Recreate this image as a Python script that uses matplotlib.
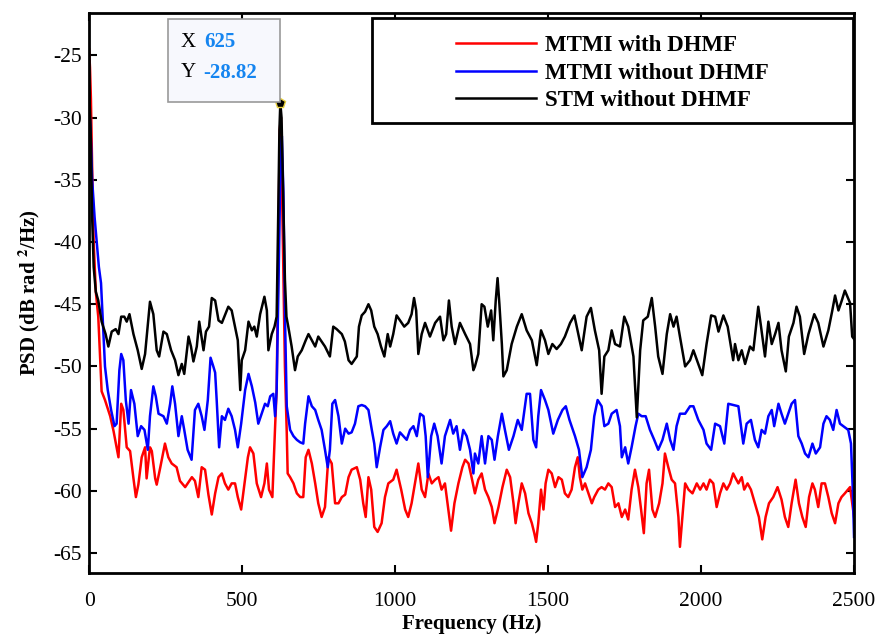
import matplotlib
matplotlib.use('Agg')
import matplotlib.pyplot as plt
from matplotlib.patches import Rectangle

# red: MTMI with DHMF
red_f = [0, 3, 6, 10, 15, 22, 30, 41, 52, 69, 80, 96, 105, 112, 123, 134, 145, 153, 161, 172,
         183, 188, 199, 205, 216, 221, 232, 248, 259, 270, 286, 297, 314, 336, 346, 357, 368, 379,
         390, 401, 412, 423, 434, 444, 455, 466, 477, 486, 497, 508, 519, 526, 537, 548, 562, 573,
         581, 588, 599, 608, 613, 619, 623, 627, 632, 640, 646, 649, 657, 668, 679, 690, 700, 708,
         717, 728, 739, 749, 760, 771, 782, 793, 804, 815, 826, 837, 848, 858, 875, 886, 896, 904,
         913, 922, 932, 943, 956, 967, 978, 994, 1005, 1020, 1033, 1043, 1054, 1065, 1076, 1087,
         1098, 1109, 1120, 1131, 1142, 1152, 1163, 1174, 1183, 1194, 1207, 1220, 1229, 1240, 1250,
         1261, 1272, 1283, 1294, 1305, 1316, 1325, 1338, 1351, 1365, 1376, 1387, 1394, 1403, 1414,
         1425, 1436, 1447, 1455, 1461, 1468, 1477, 1485, 1492, 1501, 1512, 1523, 1534, 1545, 1555,
         1566, 1577, 1588, 1597, 1604, 1612, 1621, 1632, 1643, 1651, 1664, 1675, 1686, 1697, 1708,
         1719, 1730, 1741, 1752, 1762, 1773, 1784, 1795, 1804, 1813, 1822, 1830, 1841, 1850, 1863,
         1874, 1882, 1893, 1904, 1915, 1926, 1931, 1939, 1948, 1959, 1972, 1986, 1997, 2008, 2018,
         2029, 2040, 2051, 2062, 2073, 2084, 2095, 2105, 2111, 2122, 2133, 2141, 2152, 2163, 2176,
         2189, 2200, 2211, 2222, 2236, 2250, 2263, 2274, 2285, 2296, 2309, 2320, 2331, 2342, 2353,
         2364, 2372, 2383, 2394, 2405, 2416, 2427, 2438, 2449, 2459, 2470, 2487, 2494, 2500]
red_psd = [-24.5, -26, -28.5, -34, -40, -44, -46, -52, -52.7, -54, -55.2, -57.3, -53, -53.5, -56.5,
           -56.8, -59, -60.5, -59.5, -57.3, -56.5, -59, -56.5, -56.8, -59, -59.5, -58.2, -56.2,
           -57.3, -57.8, -58.1, -59.2, -59.7, -58.9, -59.2, -60.5, -58.1, -58.3, -60.3, -61.9,
           -60.2, -58.9, -58.6, -59.4, -59.9, -59.4, -59.4, -60.5, -61.5, -59.4, -57.3, -56.5,
           -57.0, -59.4, -60.5, -59.4, -57.8, -59.9, -60.5, -54.8, -51.9, -40, -31, -30, -38, -50,
           -55.3, -58.6, -58.9, -59.4, -60.2, -60.5, -60.5, -57.3, -56.7, -57.8, -59.4, -61.0,
           -62.1, -61.3, -57.3, -57.8, -61.0, -61.0, -60.5, -60.3, -58.9, -58.3, -58.1, -59.1,
           -61.0, -62.1, -58.9, -59.9, -62.9, -63.3, -62.6, -60.5, -59.4, -59.1, -58.3, -59.9,
           -61.5, -62.1, -61.0, -59.4, -57.8, -59.9, -60.5, -58.6, -59.4, -59.1, -58.9, -59.9,
           -59.4, -61.5, -63.2, -61.0, -59.4, -58.1, -57.5, -57.8, -58.9, -60.2, -59.1, -58.6,
           -59.9, -60.5, -61.3, -62.6, -61.3, -59.7, -58.3, -58.9, -61.0, -62.6, -61.0, -59.4,
           -60.2, -61.8, -62.6, -63.4, -64.1, -62.6, -59.9, -61.5, -59.4, -58.3, -58.6, -59.7,
           -58.9, -59.1, -60.2, -60.5, -59.9, -58.1, -57.3, -58.9, -59.9, -59.4, -60.2, -61.0,
           -60.5, -59.9, -59.7, -59.9, -59.4, -59.7, -61.3, -61.0, -62.1, -61.5, -62.3, -59.9,
           -58.3, -59.7, -61.5, -63.4, -59.4, -58.3, -61.5, -62.1, -61.0, -59.4, -57.0, -58.1,
           -59.1, -59.4, -62.1, -64.5, -62.1, -59.4, -59.9, -60.2, -59.4, -59.9, -59.4, -59.9,
           -59.1, -59.4, -61.3, -60.2, -59.4, -59.9, -59.4, -58.6, -58.9, -59.4, -58.9, -59.9,
           -59.4, -59.9, -61.0, -62.1, -63.9, -62.1, -61.0, -60.5, -59.7, -60.7, -62.1, -62.9,
           -61.0, -59.1, -61.0, -62.1, -62.9, -60.5, -59.4, -59.9, -61.3, -59.4, -59.4, -60.5,
           -61.8, -62.6, -61.0, -60.5, -60.2, -59.7, -61.0, -62.1]

# blue: MTMI without DHMF
blue_f = [0, 5, 10, 18, 25, 32, 39, 47, 52, 61, 72, 83, 90, 99, 105, 112, 120, 129, 137, 148,
          159, 170, 181, 192, 199, 210, 218, 227, 243, 254, 265, 272, 281, 292, 303, 311, 322,
          335, 346, 357, 368, 377, 388, 397, 406, 412, 417, 425, 434, 444, 455, 466, 477, 486,
          497, 510, 521, 532, 543, 553, 564, 575, 584, 592, 602, 608, 613, 620, 626, 630, 635,
          641, 646, 657, 668, 679, 690, 700, 706, 717, 728, 739, 749, 760, 771, 780, 787, 795,
          804, 815, 826, 837, 848, 858, 869, 880, 891, 902, 913, 924, 932, 940, 951, 962, 973,
          984, 994, 1005, 1016, 1027, 1038, 1049, 1060, 1071, 1082, 1093, 1100, 1107, 1118, 1128,
          1139, 1152, 1163, 1180, 1190, 1201, 1212, 1223, 1234, 1245, 1256, 1261, 1272, 1283,
          1294, 1305, 1316, 1325, 1336, 1349, 1359, 1372, 1387, 1401, 1414, 1430, 1441, 1452,
          1461, 1468, 1477, 1490, 1501, 1517, 1532, 1547, 1558, 1570, 1588, 1601, 1612, 1626,
          1640, 1651, 1662, 1675, 1684, 1697, 1708, 1724, 1735, 1741, 1752, 1762, 1773, 1786,
          1795, 1806, 1819, 1833, 1847, 1860, 1874, 1888, 1899, 1910, 1920, 1931, 1948, 1964,
          1975, 1991, 2008, 2018, 2033, 2046, 2062, 2076, 2089, 2105, 2122, 2138, 2149, 2163,
          2176, 2187, 2198, 2209, 2220, 2231, 2239, 2253, 2263, 2274, 2285, 2296, 2307, 2318,
          2329, 2340, 2351, 2364, 2375, 2389, 2400, 2410, 2421, 2432, 2443, 2454, 2465, 2481,
          2490, 2496, 2500]
blue_psd = [-29, -31, -35, -38, -40, -42, -43.3, -47.4, -50.0, -51.9, -53.5, -54.8, -54.6, -50.3,
            -49.0, -49.5, -52.7, -54.6, -51.9, -53.0, -55.6, -54.8, -55.1, -56.7, -54.0, -51.6,
            -52.4, -53.8, -54.0, -54.6, -53.0, -51.6, -53.0, -55.6, -54.0, -55.1, -56.7, -57.5,
            -53.5, -53.0, -54.0, -55.1, -52.7, -49.3, -50.0, -50.5, -52.7, -56.5, -54.0, -54.3,
            -53.4, -54.0, -55.1, -56.5, -54.6, -51.9, -50.6, -51.6, -52.9, -54.6, -53.8, -53.0,
            -53.2, -52.4, -52.2, -54.0, -51.9, -42, -33, -31.5, -36, -47, -53.2, -55.1, -55.6,
            -55.9, -56.1, -56.2, -54.6, -52.4, -53.2, -53.5, -54.3, -55.1, -56.7, -58.1, -56.7,
            -53.0, -52.7, -54.0, -56.2, -55.0, -55.4, -55.3, -54.6, -53.2, -53.1, -53.2, -53.5,
            -55.1, -56.2, -58.1, -56.5, -55.1, -54.8, -54.4, -55.4, -56.2, -55.3, -55.6, -55.9,
            -55.1, -54.8, -55.6, -53.8, -54.0, -55.6, -58.9, -55.6, -54.6, -55.6, -57.8, -55.6,
            -54.3, -55.4, -54.8, -56.7, -55.1, -55.6, -56.7, -58.6, -57.0, -57.8, -55.6, -57.8,
            -55.6, -55.9, -57.5, -55.6, -53.8, -55.1, -56.7, -55.6, -54.3, -55.1, -52.2, -52.2,
            -55.9, -56.5, -54.0, -51.9, -52.7, -53.5, -55.4, -54.3, -53.5, -53.2, -54.3, -55.6,
            -56.7, -58.9, -58.1, -56.7, -54.0, -52.7, -53.2, -54.8, -54.6, -53.8, -53.5, -54.8,
            -57.3, -56.5, -57.8, -56.5, -54.8, -53.8, -54.0, -54.0, -55.1, -55.9, -56.7, -55.9,
            -54.6, -55.9, -56.7, -54.8, -53.8, -53.8, -53.2, -53.2, -54.3, -55.1, -56.2, -56.7,
            -54.6, -54.8, -56.2, -53.0, -53.1, -53.2, -56.2, -54.6, -54.3, -55.9, -56.5, -55.1,
            -55.4, -54.0, -53.5, -54.8, -53.0, -53.8, -54.6, -53.8, -53.0, -52.7, -55.6, -56.2,
            -57.0, -57.3, -56.2, -57.0, -56.5, -54.6, -54.0, -54.3, -55.1, -53.5, -54.6, -54.8,
            -55.1, -56.2, -60, -63.7]

# black: STM without DHMF
black_f = [0, 5, 10, 15, 22, 30, 41, 54, 63, 74, 87, 96, 105, 115, 123, 132, 145, 159, 172, 183,
           199, 210, 221, 229, 243, 254, 268, 281, 292, 303, 311, 325, 333, 341, 352, 360, 374,
           382, 392, 401, 412, 423, 434, 455, 466, 477, 486, 494, 499, 510, 521, 532, 540, 548,
           559, 573, 581, 586, 597, 606, 613, 618, 622, 625, 629, 634, 640, 645, 651, 662, 673,
           682, 695, 708, 717, 728, 739, 749, 760, 771, 787, 798, 809, 826, 836, 848, 858, 875,
           882, 891, 902, 913, 922, 932, 943, 954, 965, 976, 984, 994, 1005, 1016, 1030, 1043,
           1054, 1062, 1069, 1076, 1087, 1098, 1114, 1131, 1147, 1158, 1167, 1176, 1185, 1196,
           1212, 1229, 1245, 1256, 1261, 1272, 1283, 1292, 1303, 1314, 1321, 1329, 1335, 1341,
           1349, 1354, 1365, 1381, 1398, 1414, 1430, 1447, 1463, 1477, 1490, 1501, 1514, 1528,
           1542, 1555, 1572, 1586, 1599, 1610, 1626, 1640, 1653, 1667, 1675, 1684, 1697, 1708,
           1719, 1735, 1749, 1762, 1779, 1790, 1801, 1811, 1826, 1839, 1850, 1860, 1874, 1888,
           1899, 1910, 1920, 1931, 1948, 1964, 1975, 1991, 2004, 2018, 2033, 2046, 2057, 2073,
           2087, 2105, 2111, 2122, 2133, 2144, 2160, 2171, 2187, 2196, 2209, 2220, 2231, 2242,
           2253, 2263, 2277, 2287, 2302, 2312, 2323, 2337, 2351, 2370, 2383, 2400, 2416, 2429,
           2438, 2449, 2460, 2470, 2487, 2494, 2500]
black_psd = [-27.5, -31, -38, -42, -44, -44.7, -46.4, -47.4, -48.4, -47.2, -47.0, -47.4, -46.0,
             -46.0, -46.4, -45.8, -47.4, -48.7, -50.2, -49.0, -44.8, -45.8, -48.7, -49.2, -47.2,
             -47.4, -48.7, -49.5, -50.7, -49.8, -50.6, -47.6, -48.4, -49.6, -48.4, -46.4, -48.7,
             -47.2, -46.8, -44.5, -44.7, -46.3, -46.5, -45.2, -45.5, -46.8, -47.9, -51.9, -49.5,
             -48.7, -46.4, -47.1, -46.8, -47.6, -45.8, -44.4, -45.5, -48.7, -47.4, -46.8, -46.0,
             -38, -31, -28.82, -30, -36, -43, -46, -46.8, -48.4, -50.3, -49.2, -48.7, -47.9,
             -47.4, -47.9, -48.4, -47.6, -48.0, -48.4, -49.2, -46.8, -47.0, -47.4, -48.0, -49.5,
             -49.8, -49.2, -46.8, -45.9, -45.6, -45.0, -45.5, -46.8, -47.4, -48.4, -49.2, -47.4,
             -48.4, -47.4, -45.9, -46.3, -46.8, -46.5, -45.8, -44.5, -45.5, -49.0, -47.4, -46.5,
             -47.6, -46.5, -46.0, -47.9, -47.4, -44.7, -46.8, -48.2, -46.5, -47.4, -48.2, -50.3,
             -50.0, -49.0, -45.0, -45.2, -46.8, -45.5, -47.9, -44.7, -42.9, -45.0, -48.2, -50.8,
             -50.3, -48.2, -46.8, -45.8, -47.1, -47.9, -49.9, -47.1, -47.9, -49.0, -48.2, -48.6,
             -48.2, -47.6, -46.5, -45.9, -47.4, -48.7, -46.0, -45.3, -47.1, -48.7, -52.2, -49.2,
             -48.7, -47.1, -48.2, -48.4, -46.0, -46.8, -49.2, -54.1, -48.7, -46.3, -46.0, -44.5,
             -46.8, -49.2, -50.6, -47.4, -45.8, -46.8, -46.0, -47.6, -50.0, -49.5, -48.7, -49.8,
             -50.7, -48.2, -45.9, -46.0, -47.2, -45.9, -46.8, -49.5, -48.2, -49.5, -48.7, -49.8,
             -48.4, -48.7, -45.2, -46.8, -49.2, -46.4, -48.2, -47.4, -46.5, -48.7, -50.4, -47.6,
             -46.5, -45.2, -46.0, -49.0, -47.4, -45.8, -46.5, -48.4, -47.1, -45.5, -44.3, -45.5,
             -44.7, -43.9, -44.9, -47.6, -47.8]

labels = ['MTMI with DHMF', 'MTMI without DHMF', 'STM without DHMF']
tip_x = 625
tip_y = -28.82

plt.rcParams['font.family'] = ['Liberation Serif', 'DejaVu Serif']
plt.rcParams['mathtext.fontset'] = 'stix'
plt.rcParams['axes.unicode_minus'] = False

fig = plt.figure(figsize=(8.82, 6.37), dpi=100)
ax = fig.add_axes([0.101, 0.1005, 0.8673, 0.879])

ax.plot(red_f, red_psd, color='#ff0000', lw=1.8, label=labels[0])
ax.plot(blue_f, blue_psd, color='#0000ff', lw=1.8, label=labels[1])
ax.plot(black_f, black_psd, color='black', lw=1.8, label=labels[2])

ax.set_xlim(0, 2500)
ax.set_ylim(-66.6, -21.6)
ax.set_xticks(range(0, 2501, 500))
ax.set_yticks(range(-65, -24, 5))
ax.tick_params(direction='in', length=6, width=1.5, labelsize=15.5,
               top=True, right=True)
ax.tick_params(axis='x', pad=14)
ax.tick_params(axis='y', pad=5)
for s in ax.spines.values():
    s.set_linewidth(2)

ax.set_xlabel('Frequency (Hz)', fontsize=15, fontweight='bold', labelpad=2)
ax.set_ylabel('PSD (dB rad $^{\\mathbf{2}}$/Hz)', fontsize=15, fontweight='bold', labelpad=8)

# data tip
ax.plot([tip_x], [tip_y], marker='p', ms=7, mfc='black', mec='#e8d040', mew=1, zorder=5)
ax.add_patch(Rectangle((0.103, 0.841), 0.147, 0.148, transform=ax.transAxes,
                       facecolor='#f7f8fd', edgecolor='#9a9a9a', lw=1.2, zorder=6))
ax.text(0.119, 0.948, 'X', transform=ax.transAxes, fontsize=15, va='center', zorder=7)
ax.text(0.150, 0.948, f'{tip_x}', transform=ax.transAxes, fontsize=15, va='center',
        color='#1585f0', fontweight='bold', zorder=7)
ax.text(0.120, 0.893, 'Y', transform=ax.transAxes, fontsize=15, va='center', zorder=7)
ax.text(0.149, 0.893, f'{tip_y:.2f}', transform=ax.transAxes, fontsize=15, va='center',
        color='#1585f0', fontweight='bold', zorder=7)

# legend
ax.add_patch(Rectangle((0.370, 0.804), 0.628, 0.187, transform=ax.transAxes,
                       facecolor='white', edgecolor='black', lw=2, zorder=6))
leg = ax.legend(loc='upper center', bbox_to_anchor=(0.684, 0.997), frameon=False,
                prop={'weight': 'bold', 'size': 16.5}, handlelength=3.5,
                handletextpad=0.4, labelspacing=0.28)
leg.set_zorder(7)

fig.savefig('out.png', dpi=100)
